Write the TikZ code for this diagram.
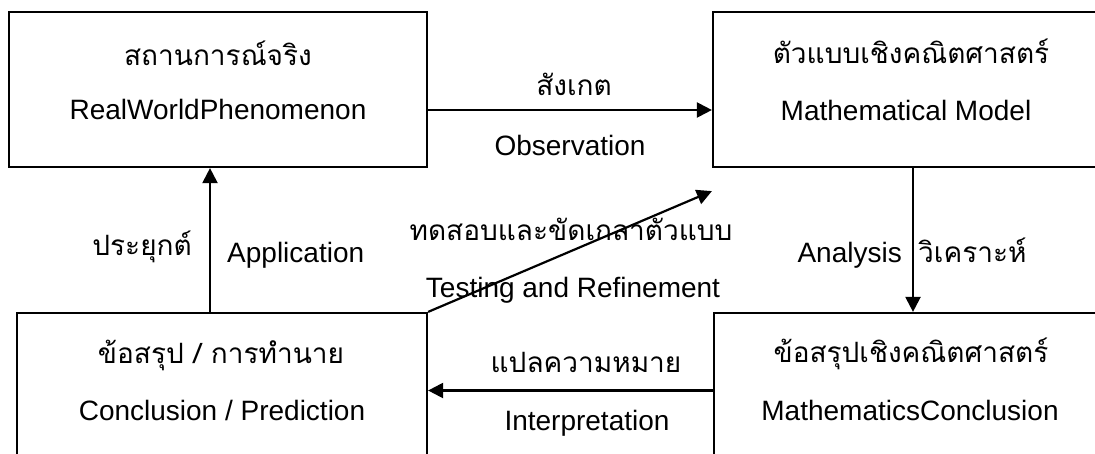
\documentclass[tikz,border=0pt]{standalone}
\usepackage{fontspec}
\setmainfont{Liberation Sans}
\newfontfamily\thai[Script=Thai]{Loma}
\usetikzlibrary{arrows.meta}
\tikzset{
  box/.style={draw, line width=2.2pt, inner sep=0pt, minimum height=155pt},
  lat/.style={font=\fontsize{28}{30}\selectfont, inner sep=0pt},
  th/.style={font=\thai\fontsize{28}{30}\selectfont, inner sep=0pt},
  arr/.style={line width=2.2pt, -{Triangle[length=15pt,width=15pt]}},
}
\begin{document}
\begin{tikzpicture}[x=1pt,y=-1pt]
\useasboundingbox (0,0) rectangle (1095,453);
\clip (0,0) rectangle (1095,453);
\fill[white] (0,0) rectangle (1095,453);
% boxes
\node[box, minimum width=418pt] (tl) at (218,89.5) {};
\node[box, minimum width=400pt] (tr) at (913,89.5) {};
\node[box, minimum width=410pt] (bl) at (222,390.5) {};
\node[box, minimum width=398pt] (br) at (913,390.5) {};
% box texts
\node[th, anchor=base] (tl1) at (218,65) {สถานการณ์จริง};
\node[lat, anchor=base] (tl2) at (218,119) {RealWorldPhenomenon};
\node[th, anchor=base] (tr1) at (911,63) {ตัวแบบเชิงคณิตศาสตร์};
\node[lat, anchor=base] (tr2) at (906,120) {Mathematical Model};
\node[th, anchor=base] (bl1) at (221,363) {ข้อสรุป / การทำนาย};
\node[lat, anchor=base] (bl2) at (222,420) {Conclusion / Prediction};
\node[th, anchor=base] (br1) at (911,362) {ข้อสรุปเชิงคณิตศาสตร์};
\node[lat, anchor=base] (br2) at (910,420) {MathematicsConclusion};
% connectors
\draw[arr] ([yshift=-20.5pt]tl.east) -- ([yshift=-20.5pt]tr.west);
\draw[arr] ([xshift=-12pt]bl.north) -- ([xshift=-8pt]tl.south);
\draw[arr] (tr.south) -- (br.north);
\draw[arr] (br.west) -- (bl.east);
\draw[arr] (bl.north east) -- ([yshift=-23pt]tr.south west);
% connector labels
\node[th, anchor=base] (obs1) at (574,95) {สังเกต};
\node[lat, anchor=base] (obs2) at (570,155) {Observation};
\node[th, anchor=base] (tst1) at (571,240) {ทดสอบและขัดเกลาตัวแบบ};
\node[lat, anchor=base] (tst2) at (573,297) {Testing and Refinement};
\node[th, anchor=base east] (app1) at (192,255) {ประยุกต์};
\node[lat, anchor=base west] (app2) at (227,262) {Application};
\node[lat, anchor=base east] (ana1) at (902,262) {Analysis};
\node[th, anchor=base west] (ana2) at (918,262) {วิเคราะห์};
\node[th, anchor=base] (int1) at (586,372) {แปลความหมาย};
\node[lat, anchor=base] (int2) at (587,430) {Interpretation};
\end{tikzpicture}
\end{document}
